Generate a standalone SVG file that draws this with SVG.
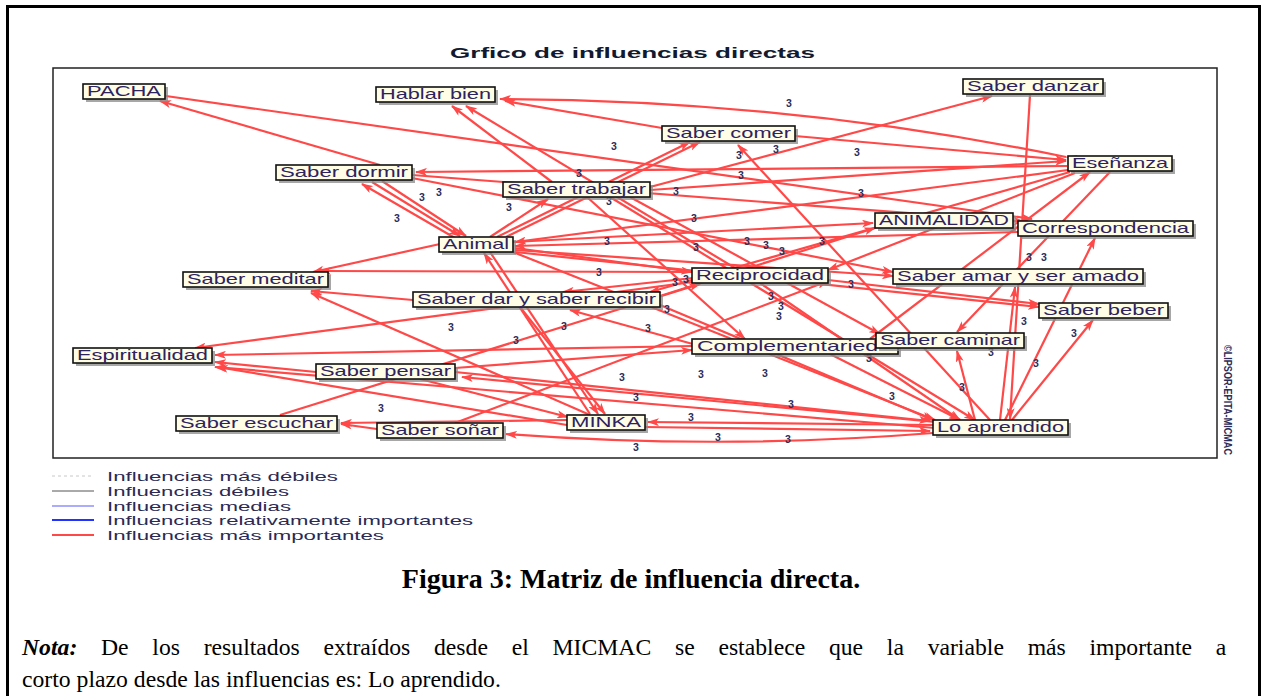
<svg xmlns="http://www.w3.org/2000/svg" width="1262" height="696" viewBox="0 0 1262 696">
<defs>
<style>
.frame{fill:none;stroke:#000;stroke-width:3}
.plot{fill:#fff;stroke:#222;stroke-width:1.5}
.e{fill:none;stroke:#ff4848;stroke-width:2.2;marker-end:url(#ah)}
.sh{fill:#8a8a8a;opacity:0.75}
.bx{fill:#fffde6;stroke:#111;stroke-width:1.6}
.nt{font-family:"Liberation Sans",Arial,sans-serif;font-size:14.5px;fill:#2c2360}
.w{font-family:"Liberation Sans",Arial,sans-serif;font-size:10.5px;font-weight:bold;fill:#2c2d5a}
.lg{font-family:"Liberation Sans",Arial,sans-serif;font-size:13px;fill:#2a2a55}
.ttl{font-family:"Liberation Sans",Arial,sans-serif;font-size:15px;font-weight:bold;fill:#111a30}
.cap{font-family:"Liberation Serif","Times New Roman",serif;font-size:28px;font-weight:bold;fill:#000}
.nota{font-family:"Liberation Serif","Times New Roman",serif;font-size:23.7px;fill:#000}
</style>
<marker id="ah" viewBox="0 0 12 8" refX="11" refY="4" markerWidth="12" markerHeight="8" markerUnits="userSpaceOnUse" orient="auto">
<path d="M0,0 L12,4 L0,8 L3,4 z" fill="#ff4848"/>
</marker>
</defs>
<rect x="0" y="0" width="1262" height="696" fill="#fff"/>
<rect class="frame" x="7.5" y="6.5" width="1252" height="700"/>
<text class="ttl" x="450" y="58" textLength="365" lengthAdjust="spacingAndGlyphs">Grfico de influencias directas</text>
<rect class="plot" x="53" y="68" width="1164" height="390"/>
<text x="1224" y="345" transform="rotate(90 1224 345)" font-family="Liberation Sans, Arial, sans-serif" font-size="10" font-weight="bold" fill="#2c2d5a" textLength="110" lengthAdjust="spacingAndGlyphs">©LIPSOR-EPITA-MICMAC</text>

<g id="connectors">
<line class="e" x1="380" y1="165" x2="160" y2="101"/>
<line class="e" x1="166" y1="96" x2="1032" y2="219"/>
<path class="e" d="M1066,157 Q790,100 500,99" style="marker-start:url(#ah)"/>
<line class="e" x1="662" y1="128" x2="505" y2="101"/>
<line class="e" x1="735" y1="268" x2="466" y2="106"/>
<line class="e" x1="552" y1="182" x2="452" y2="106"/>
<line class="e" x1="650" y1="187" x2="992" y2="96"/>
<line class="e" x1="1030" y1="95" x2="1010" y2="419"/>
<line class="e" x1="1067" y1="166" x2="416" y2="172"/>
<line class="e" x1="412" y1="178" x2="893" y2="272"/>
<line class="e" x1="412" y1="175" x2="1025" y2="222"/>
<line class="e" x1="455" y1="238" x2="362" y2="184"/>
<line class="e" x1="372" y1="182" x2="460" y2="236"/>
<line class="e" x1="382" y1="181" x2="466" y2="236"/>
<line class="e" x1="440" y1="244" x2="313" y2="272"/>
<line class="e" x1="692" y1="272" x2="320" y2="271"/>
<line class="e" x1="413" y1="300" x2="311" y2="291"/>
<line class="e" x1="590" y1="415" x2="311" y2="293"/>
<line class="e" x1="497" y1="237" x2="690" y2="142"/>
<line class="e" x1="506" y1="237" x2="700" y2="142"/>
<line class="e" x1="490" y1="237" x2="548" y2="199"/>
<line class="e" x1="650" y1="190" x2="1066" y2="161"/>
<line class="e" x1="587" y1="197" x2="745" y2="339"/>
<line class="e" x1="610" y1="197" x2="975" y2="420"/>
<line class="e" x1="630" y1="197" x2="880" y2="334"/>
<line class="e" x1="1068" y1="170" x2="515" y2="242"/>
<line class="e" x1="513" y1="242" x2="873" y2="223"/>
<line class="e" x1="1018" y1="232" x2="515" y2="246"/>
<line class="e" x1="515" y1="248" x2="692" y2="272"/>
<line class="e" x1="515" y1="250" x2="893" y2="276"/>
<line class="e" x1="515" y1="252" x2="1039" y2="307"/>
<line class="e" x1="990" y1="420" x2="738" y2="145"/>
<line class="e" x1="975" y1="420" x2="957" y2="351"/>
<line class="e" x1="1000" y1="420" x2="1015" y2="287"/>
<line class="e" x1="1005" y1="420" x2="1095" y2="238"/>
<line class="e" x1="1012" y1="420" x2="1093" y2="320"/>
<line class="e" x1="933" y1="425" x2="648" y2="422"/>
<line class="e" x1="645" y1="427" x2="930" y2="431"/>
<path class="e" d="M933,433 Q720,450 506,434"/>
<line class="e" x1="935" y1="422" x2="462" y2="377"/>
<line class="e" x1="455" y1="372" x2="930" y2="421"/>
<line class="e" x1="513" y1="252" x2="935" y2="420"/>
<line class="e" x1="760" y1="283" x2="960" y2="420"/>
<line class="e" x1="830" y1="354" x2="960" y2="420"/>
<line class="e" x1="660" y1="305" x2="933" y2="420"/>
<line class="e" x1="935" y1="428" x2="215" y2="367"/>
<line class="e" x1="280" y1="415" x2="700" y2="284"/>
<line class="e" x1="490" y1="252" x2="598" y2="414"/>
<line class="e" x1="590" y1="414" x2="484" y2="253"/>
<line class="e" x1="520" y1="307" x2="605" y2="414"/>
<line class="e" x1="567" y1="425" x2="217" y2="367"/>
<line class="e" x1="567" y1="420" x2="341" y2="423"/>
<line class="e" x1="377" y1="429" x2="341" y2="424"/>
<line class="e" x1="420" y1="379" x2="568" y2="417"/>
<line class="e" x1="455" y1="423" x2="828" y2="281"/>
<line class="e" x1="700" y1="346" x2="570" y2="310"/>
<line class="e" x1="693" y1="278" x2="563" y2="292"/>
<line class="e" x1="316" y1="372" x2="215" y2="362"/>
<line class="e" x1="692" y1="282" x2="195" y2="348"/>
<line class="e" x1="692" y1="346" x2="215" y2="355"/>
<line class="e" x1="455" y1="368" x2="692" y2="350"/>
<line class="e" x1="1110" y1="172" x2="957" y2="332"/>
<line class="e" x1="795" y1="136" x2="1066" y2="160"/>
<line class="e" x1="1070" y1="172" x2="650" y2="292"/>
<line class="e" x1="1075" y1="173" x2="828" y2="270"/>
<line class="e" x1="870" y1="339" x2="1090" y2="172"/>
<line class="e" x1="828" y1="280" x2="1039" y2="304"/>
<line class="e" x1="660" y1="296" x2="875" y2="228"/>
</g>

<g id="weights" class="w">
<text x="786" y="107">3</text><text x="611" y="150">3</text><text x="736" y="159">3</text><text x="773" y="153">3</text>
<text x="854" y="156">3</text><text x="738" y="179">3</text><text x="576" y="177">3</text><text x="858" y="197">3</text>
<text x="673" y="195">3</text><text x="436" y="196">3</text><text x="419" y="201">3</text><text x="506" y="211">3</text>
<text x="606" y="205">3</text><text x="691" y="222">3</text><text x="394" y="222">3</text><text x="604" y="245">3</text>
<text x="693" y="251">3</text><text x="744" y="245">3</text><text x="763" y="249">3</text><text x="779" y="255">3</text>
<text x="819" y="245">3</text><text x="596" y="276">3</text><text x="672" y="286">3</text><text x="683" y="283">3</text>
<text x="848" y="288">3</text><text x="768" y="300">3</text><text x="778" y="310">3</text><text x="776" y="320">3</text>
<text x="664" y="313">3</text><text x="645" y="332">3</text><text x="448" y="331">3</text><text x="561" y="330">3</text>
<text x="513" y="344">3</text><text x="619" y="381">3</text><text x="698" y="378">3</text><text x="762" y="377">3</text>
<text x="866" y="362">3</text><text x="633" y="401">3</text><text x="788" y="408">3</text><text x="889" y="400">3</text>
<text x="688" y="421">3</text><text x="715" y="441">3</text><text x="785" y="443">3</text><text x="633" y="451">3</text>
<text x="378" y="412">3</text><text x="1026" y="261">3</text><text x="1041" y="261">3</text><text x="1021" y="325">3</text>
<text x="1071" y="337">3</text><text x="1033" y="367">3</text><text x="959" y="391">3</text><text x="988" y="356">3</text>
</g>

<g id="n-pacha"><rect class="sh" x="86" y="87" width="82" height="15"/><rect class="bx" x="83" y="84" width="82" height="15"/><text class="nt" x="87" y="96" textLength="74" lengthAdjust="spacingAndGlyphs">PACHA</text></g>
<g id="n-hablar"><rect class="sh" x="379" y="90" width="119" height="15"/><rect class="bx" x="376" y="87" width="119" height="15"/><text class="nt" x="380" y="99" textLength="111" lengthAdjust="spacingAndGlyphs">Hablar bien</text></g>
<g id="n-comer"><rect class="sh" x="665" y="129" width="133" height="15"/><rect class="bx" x="662" y="126" width="133" height="15"/><text class="nt" x="666" y="138" textLength="125" lengthAdjust="spacingAndGlyphs">Saber comer</text></g>
<g id="n-danzar"><rect class="sh" x="966" y="82" width="140" height="15"/><rect class="bx" x="963" y="79" width="140" height="15"/><text class="nt" x="967" y="91" textLength="132" lengthAdjust="spacingAndGlyphs">Saber danzar</text></g>
<g id="n-esenanza"><rect class="sh" x="1071" y="159" width="104" height="15"/><rect class="bx" x="1068" y="156" width="104" height="15"/><text class="nt" x="1072" y="168" textLength="96" lengthAdjust="spacingAndGlyphs">Eseñanza</text></g>
<g id="n-dormir"><rect class="sh" x="279" y="168" width="136" height="15"/><rect class="bx" x="276" y="165" width="136" height="15"/><text class="nt" x="280" y="177" textLength="128" lengthAdjust="spacingAndGlyphs">Saber dormir</text></g>
<g id="n-trabajar"><rect class="sh" x="506" y="185" width="147" height="15"/><rect class="bx" x="503" y="182" width="147" height="15"/><text class="nt" x="507" y="194" textLength="139" lengthAdjust="spacingAndGlyphs">Saber trabajar</text></g>
<g id="n-animalidad"><rect class="sh" x="878" y="216" width="138" height="15"/><rect class="bx" x="875" y="213" width="138" height="15"/><text class="nt" x="879" y="225" textLength="130" lengthAdjust="spacingAndGlyphs">ANIMALIDAD</text></g>
<g id="n-correspondencia"><rect class="sh" x="1021" y="224" width="175" height="15"/><rect class="bx" x="1018" y="221" width="175" height="15"/><text class="nt" x="1022" y="233" textLength="167" lengthAdjust="spacingAndGlyphs">Correspondencia</text></g>
<g id="n-animal"><rect class="sh" x="442" y="240" width="74" height="15"/><rect class="bx" x="439" y="237" width="74" height="15"/><text class="nt" x="443" y="249" textLength="66" lengthAdjust="spacingAndGlyphs">Animal</text></g>
<g id="n-meditar"><rect class="sh" x="186" y="275" width="145" height="15"/><rect class="bx" x="183" y="272" width="145" height="15"/><text class="nt" x="187" y="284" textLength="137" lengthAdjust="spacingAndGlyphs">Saber meditar</text></g>
<g id="n-reciprocidad"><rect class="sh" x="695" y="271" width="136" height="15"/><rect class="bx" x="692" y="268" width="136" height="15"/><text class="nt" x="696" y="280" textLength="128" lengthAdjust="spacingAndGlyphs">Reciprocidad</text></g>
<g id="n-amar"><rect class="sh" x="896" y="272" width="250" height="15"/><rect class="bx" x="893" y="269" width="250" height="15"/><text class="nt" x="897" y="281" textLength="242" lengthAdjust="spacingAndGlyphs">Saber amar y ser amado</text></g>
<g id="n-dar"><rect class="sh" x="416" y="295" width="247" height="15"/><rect class="bx" x="413" y="292" width="247" height="15"/><text class="nt" x="417" y="304" textLength="239" lengthAdjust="spacingAndGlyphs">Saber dar y saber recibir</text></g>
<g id="n-beber"><rect class="sh" x="1042" y="306" width="129" height="15"/><rect class="bx" x="1039" y="303" width="129" height="15"/><text class="nt" x="1043" y="315" textLength="121" lengthAdjust="spacingAndGlyphs">Saber beber</text></g>
<g id="n-espiritualidad"><rect class="sh" x="76" y="351" width="139" height="15"/><rect class="bx" x="73" y="348" width="139" height="15"/><text class="nt" x="77" y="360" textLength="131" lengthAdjust="spacingAndGlyphs">Espiritualidad</text></g>
<g id="n-complementariedad"><rect class="sh" x="695" y="342" width="206" height="15"/><rect class="bx" x="692" y="339" width="206" height="15"/><text class="nt" x="697" y="351" textLength="181" lengthAdjust="spacingAndGlyphs">Complementaried</text></g>
<g id="n-caminar"><rect class="sh" x="879" y="336" width="148" height="15"/><rect class="bx" x="876" y="333" width="148" height="15"/><text class="nt" x="880" y="345" textLength="140" lengthAdjust="spacingAndGlyphs">Saber caminar</text></g>
<g id="n-pensar"><rect class="sh" x="319" y="367" width="139" height="15"/><rect class="bx" x="316" y="364" width="139" height="15"/><text class="nt" x="320" y="376" textLength="131" lengthAdjust="spacingAndGlyphs">Saber pensar</text></g>
<g id="n-escuchar"><rect class="sh" x="179" y="419" width="161" height="15"/><rect class="bx" x="176" y="416" width="161" height="15"/><text class="nt" x="180" y="428" textLength="153" lengthAdjust="spacingAndGlyphs">Saber escuchar</text></g>
<g id="n-sonar"><rect class="sh" x="380" y="426" width="126" height="15"/><rect class="bx" x="377" y="423" width="126" height="15"/><text class="nt" x="381" y="435" textLength="118" lengthAdjust="spacingAndGlyphs">Saber soñar</text></g>
<g id="n-minka"><rect class="sh" x="570" y="418" width="78" height="15"/><rect class="bx" x="567" y="415" width="78" height="15"/><text class="nt" x="571" y="427" textLength="70" lengthAdjust="spacingAndGlyphs">MINKA</text></g>
<g id="n-aprendido"><rect class="sh" x="936" y="423" width="135" height="15"/><rect class="bx" x="933" y="420" width="135" height="15"/><text class="nt" x="937" y="432" textLength="127" lengthAdjust="spacingAndGlyphs">Lo aprendido</text></g>

<g id="legend">
<line x1="52" y1="476" x2="94" y2="476" stroke="#c8c8c8" stroke-width="1" stroke-dasharray="3,3"/>
<line x1="52" y1="491" x2="94" y2="491" stroke="#555" stroke-width="1"/>
<line x1="52" y1="506" x2="94" y2="506" stroke="#5a5aff" stroke-width="1.2"/>
<line x1="52" y1="520" x2="94" y2="520" stroke="#2233ff" stroke-width="2.2"/>
<line x1="52" y1="535" x2="94" y2="535" stroke="#ff4848" stroke-width="2.2"/>
<text class="lg" x="107" y="481" textLength="231" lengthAdjust="spacingAndGlyphs">Influencias más débiles</text>
<text class="lg" x="107" y="496" textLength="182" lengthAdjust="spacingAndGlyphs">Influencias débiles</text>
<text class="lg" x="107" y="511" textLength="184" lengthAdjust="spacingAndGlyphs">Influencias medias</text>
<text class="lg" x="107" y="525" textLength="366" lengthAdjust="spacingAndGlyphs">Influencias relativamente importantes</text>
<text class="lg" x="107" y="540" textLength="277" lengthAdjust="spacingAndGlyphs">Influencias más importantes</text>
</g>

<text class="cap" x="631" y="588" text-anchor="middle">Figura 3: Matriz de influencia directa.</text>
<text class="nota" x="22" y="655" word-spacing="17.8"><tspan font-weight="bold" font-style="italic">Nota:</tspan> De los resultados extraídos desde el MICMAC se establece que la variable más importante a</text>
<text class="nota" x="22" y="687">corto plazo desde las influencias es: Lo aprendido.</text>
</svg>
